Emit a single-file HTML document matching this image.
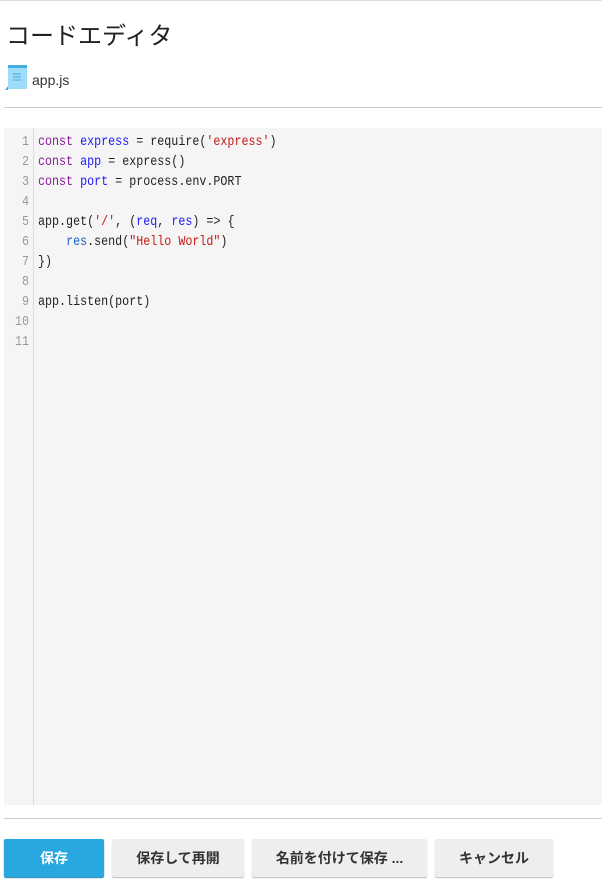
<!DOCTYPE html>
<html><head><meta charset="utf-8"><style>
body{margin:0;width:602px;height:891px;background:#fff;position:relative;overflow:hidden;font-family:"Liberation Sans","Noto Sans CJK JP",sans-serif;}
.abs{position:absolute;}
.code{font-family:"Liberation Mono","Noto Sans CJK JP",monospace;font-size:14px;line-height:20px;color:#222;white-space:pre;transform:scaleX(0.835);transform-origin:0 0;}
.k{color:#8a1f9a}.v{color:#1a1aff}.s{color:#c41a16}.r{color:#1a5fc8}
.btn{position:absolute;top:839px;height:38px;line-height:38px;text-align:center;font-weight:bold;font-size:14px;border-radius:2px;color:#333;background:#eee;box-shadow:0 1px 1px #bbb;}
</style></head><body>
<div class="abs" style="left:0;top:0;width:602px;height:1px;background:#ddd"></div>
<div class="abs" style="left:6px;top:20px;font-size:24px;color:#222;line-height:34px">コードエディタ</div>
<svg class="abs" style="left:4px;top:64px" width="24" height="28" viewBox="0 0 24 28">
<rect x="4" y="1" width="19" height="24" fill="#9fdcf7"/>
<rect x="4" y="1" width="19" height="3" fill="#42aee0"/>
<path d="M4 22 L4 26 L1 26 Z" fill="#42aee0"/>
<line x1="9" y1="10" x2="17" y2="10" stroke="#42aee0"/><line x1="9" y1="13" x2="17" y2="13" stroke="#42aee0"/><line x1="9" y1="16" x2="17" y2="16" stroke="#42aee0"/>
</svg>
<div class="abs" style="left:32px;top:71px;font-size:14px;color:#333;line-height:18px">app.js</div>
<div class="abs" style="left:4px;top:107px;width:598px;height:1px;background:#ccc"></div>
<div class="abs" style="left:4px;top:128px;width:598px;height:677px;background:#f5f5f5"></div>
<div class="abs" style="left:33px;top:128px;width:1px;height:677px;background:#ddd"></div>
<div class="abs code" style="left:9px;top:132px;width:24px;text-align:right;color:#999">1
2
3
4
5
6
7
8
9
10
11</div>
<div class="abs code" style="left:38px;top:132px"><span class="k">const</span> <span class="v">express</span> = require(<span class="s">'express'</span>)
<span class="k">const</span> <span class="v">app</span> = express()
<span class="k">const</span> <span class="v">port</span> = process.env.PORT

app.get(<span class="s">'/'</span>, (<span class="v">req</span>, <span class="v">res</span>) =&gt; {
    <span class="r">res</span>.send(<span class="s">"Hello World"</span>)
})

app.listen(port)</div>
<div class="abs" style="left:4px;top:818px;width:598px;height:1px;background:#ccc"></div>
<div class="btn" style="left:4px;width:100px;background:#29a8e0;color:#fff;box-shadow:0 1px 1px #1a7fb0">保存</div>
<div class="btn" style="left:112px;width:132px">保存して再開</div>
<div class="btn" style="left:252px;width:175px">名前を付けて保存 ...</div>
<div class="btn" style="left:435px;width:118px">キャンセル</div>
</body></html>
